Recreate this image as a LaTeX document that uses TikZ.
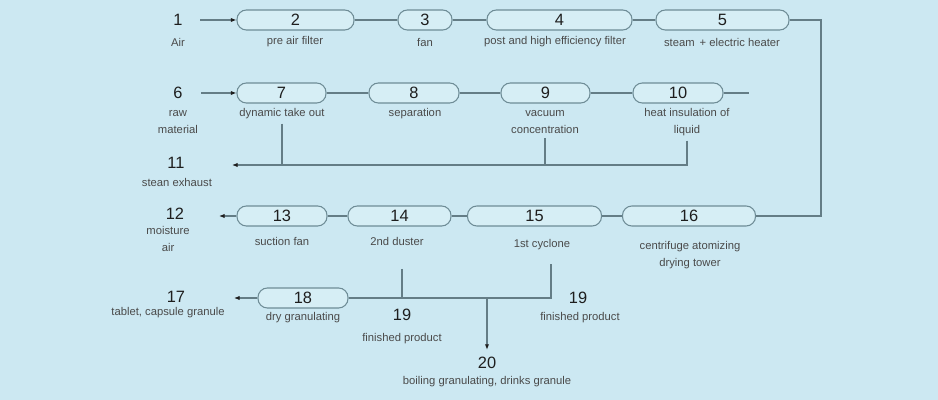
\documentclass[tikz,border=0pt]{standalone}
\usepackage{fontspec}
\setmainfont{Liberation Sans}
\usetikzlibrary{arrows.meta,positioning,calc}
\definecolor{bgblue}{HTML}{CCE8F2}
\definecolor{boxfill}{HTML}{D6EEF5}
\definecolor{boxline}{HTML}{6E8C96}
\definecolor{wire}{HTML}{647D86}
\definecolor{numtext}{HTML}{1E1E1E}
\definecolor{lbltext}{HTML}{4A4A4A}

\begin{document}
\begin{tikzpicture}[
  x=0.03cm, y=-0.03cm,
  box/.style={rectangle, rounded corners=8pt, draw=boxline, fill=boxfill, line width=0.9pt, minimum height=0.6cm, inner sep=0pt, text=numtext, font=\fontsize{14}{16}\selectfont},
  num/.style={text=numtext, font=\fontsize{14}{16}\selectfont, inner sep=1pt},
  lbl/.style={text=lbltext, align=center, font=\fontsize{9.6}{14.5}\selectfont, inner sep=1pt},
  line/.style={draw=wire, line width=0.9pt},
  arrow/.style={line, -{Latex[length=1.7mm, width=1.3mm, color=numtext]}}
]

\fill[bgblue] (0,0) rectangle (938,400);

% row 1
\node[num] (n1) at (178,20) {1};
\node[lbl] (l1) at (178,42) {Air};
\node[box, minimum width=3.51cm] (b2) at (295.5,20) {2};
\node[lbl] (l2) at (295,42) {pre air filter};
\node[box, minimum width=1.62cm] (b3) at (425,20) {3};
\node[lbl] (l3) at (425,42) {fan};
\node[box, minimum width=4.35cm] (b4) at (559.5,20) {4};
\node[lbl] (l4) at (555,42) {post and high efficiency filter};
\node[box, minimum width=3.99cm] (b5) at (722.5,20) {5};
\node[lbl] (l5) at (722,42) {steam \,+ electric heater};

% row 2
\node[num] (n6) at (178,93) {6};
\node[lbl] (l6) at (178,122.5) {raw\\material};
\node[box, minimum width=2.67cm] (b7) at (281.5,93) {7};
\node[lbl] (l7) at (282,114) {dynamic take out};
\node[box, minimum width=2.7cm] (b8) at (414,93) {8};
\node[lbl] (l8) at (415,114) {separation};
\node[box, minimum width=2.67cm] (b9) at (545.5,93) {9};
\node[lbl] (l9) at (545,122.5) {vacuum\\concentration};
\node[box, minimum width=2.7cm] (b10) at (678,93) {10};
\node[lbl] (l10) at (687,122.5) {heat insulation of\\liquid};
\node[num] (n11) at (176,163) {11};
\node[lbl] (l11) at (177,182) {stean exhaust};

% row 3
\node[num] (n12) at (175,214) {12};
\node[lbl] (l12) at (168,239) {moisture\\air};
\node[box, minimum width=2.7cm] (b13) at (282,216) {13};
\node[lbl] (l13) at (282,241) {suction fan};
\node[box, minimum width=3.09cm] (b14) at (399.5,216) {14};
\node[lbl] (l14) at (397,241) {2nd duster};
\node[box, minimum width=4.02cm] (b15) at (534.5,216) {15};
\node[lbl] (l15) at (542,245) {1st cyclone};
\node[box, minimum width=3.99cm] (b16) at (689,216) {16};
\node[lbl] (l16) at (690,255.5) {centrifuge atomizing\\drying tower};

% row 4
\node[num] (n17) at (176,297) {17};
\node[lbl] (l17) at (168,313) {tablet, capsule granule};
\node[box, minimum width=2.7cm] (b18) at (303,298) {18};
\node[lbl] (l18) at (303,318) {dry granulating};
\node[num] (n19a) at (402,315) {19};
\node[lbl] (l19a) at (402,339) {finished product};
\node[num] (n19b) at (578,298) {19};
\node[lbl] (l19b) at (580,318) {finished product};
\node[num] (n20) at (487,363) {20};
\node[lbl] (l20) at (487,382) {boiling granulating, drinks granule};

\coordinate (a1) at (200,20);
\coordinate (a6) at (201,93);
\coordinate (e10) at (749,93);
\coordinate (t11) at (232,165);
\coordinate (c5) at (821,216);
\coordinate (t12) at (219,216);
\coordinate (s14) at (402,269);
\coordinate (s15) at (551,264);
\coordinate (j20) at (487,298);
\coordinate (t17) at (234,298);

\draw[arrow] (a1) -- (b2);
\draw[line] (b2) -- (b3);
\draw[line] (b3) -- (b4);
\draw[line] (b4) -- (b5);
\draw[line] (b5.east) -| (c5) -- (b16.east);

\draw[arrow] (a6) -- (b7);
\draw[line] (b7) -- (b8);
\draw[line] (b8) -- (b9);
\draw[line] (b9) -- (b10);
\draw[line] (b10) -- (e10);
\draw[arrow, shorten <=2.5pt] (l10.south) |- (t11);
\draw[line, shorten <=2.5pt] (l7.south) -- (l7.south |- t11);
\draw[line, shorten <=2.5pt] (l9.south) -- (l9.south |- t11);

\draw[line] (b16) -- (b15);
\draw[line] (b15) -- (b14);
\draw[line] (b14) -- (b13);
\draw[arrow] (b13) -- (t12);

\draw[line] (b18.east) -| (s15);
\draw[line] (s14) -- (s14 |- b18.east);
\draw[arrow, shorten >=5pt] (j20) -- (n20);
\draw[arrow] (b18) -- (t17);

\end{tikzpicture}
\end{document}
